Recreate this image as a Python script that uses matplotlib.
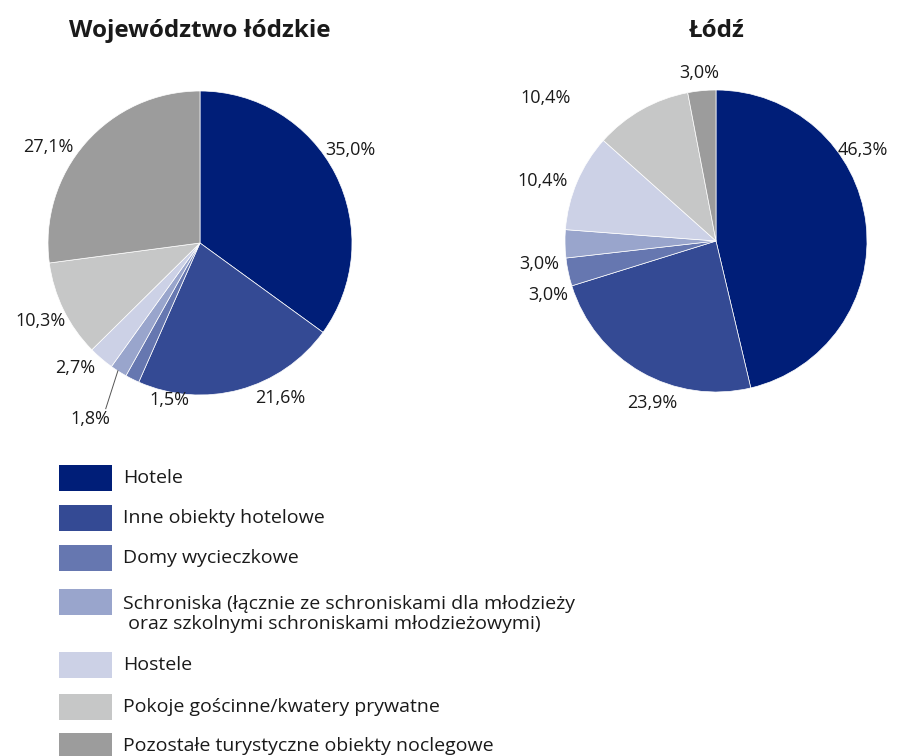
import matplotlib.pyplot as plt
from matplotlib.patches import Rectangle

plt.rcParams['font.family'] = ['Open Sans', 'DejaVu Sans']

# dane
categories = ['Hotele', 'Inne obiekty hotelowe', 'Domy wycieczkowe',
              'Schroniska (łącznie ze schroniskami dla młodzieży\n oraz szkolnymi schroniskami młodzieżowymi)',
              'Hostele', 'Pokoje gościnne/kwatery prywatne',
              'Pozostałe turystyczne obiekty noclegowe']
woj_values = [35.0, 21.6, 1.5, 1.8, 2.7, 10.3, 27.1]
lodz_values = [46.3, 23.9, 3.0, 3.0, 10.4, 10.4, 3.0]
colors = ['#001e78', '#344a94', '#6677b0', '#99a5cc', '#ccd1e6', '#c6c7c7', '#9c9c9c']

# rozmieszczenie etykiet (w jednostkach promienia)
woj_label_pos = [(0.99, 0.61), (0.53, -1.02), (-0.20, -1.03), (-0.72, -1.16),
                 (-0.82, -0.82), (-1.05, -0.51), (-1.0, 0.63)]
lodz_label_pos = [(0.97, 0.60), (-0.42, -1.07), (-1.11, -0.36), (-1.17, -0.15),
                  (-1.15, 0.40), (-1.13, 0.95), (-0.11, 1.11)]

W, H = 899, 756
fig = plt.figure(figsize=(W / 100, H / 100), dpi=100)
txt_color = '#1a1a1a'


def pct(v):
    return f'{v:.1f}%'.replace('.', ',')


def draw_pie(cx, cy, r, values, label_pos, title):
    ax = fig.add_axes([(cx - r) / W, (H - cy - r) / H, 2 * r / W, 2 * r / H])
    ax.pie(values, colors=colors, startangle=90, counterclock=False, radius=1,
           wedgeprops=dict(linewidth=0.5, edgecolor='white'))
    ax.set_xlim(-1, 1)
    ax.set_ylim(-1, 1)
    ax.set_aspect('equal')
    ax.axis('off')
    for v, (x, y) in zip(values, label_pos):
        ax.text(x, y, pct(v), ha='center', va='center', fontsize=13,
                color=txt_color, clip_on=False)
    fig.text(cx / W, 1 - 31 / H, title, ha='center', va='center',
             fontsize=17.5, fontweight='bold', color=txt_color)
    return ax


ax1 = draw_pie(200, 243, 152, woj_values, woj_label_pos, 'Województwo łódzkie')
draw_pie(716, 241, 151, lodz_values, lodz_label_pos, 'Łódź')

# linia odniesienia dla 1,8%
ax1.plot([-0.54, -0.62], [-0.84, -1.09], color='#555555', linewidth=0.7, clip_on=False)

# legenda
legend_y = [478, 518, 558, 602, 665, 707, 746]
for name, c, y in zip(categories, colors, legend_y):
    fig.patches.append(Rectangle((59 / W, 1 - (y + 13) / H), 53 / W, 26 / H,
                                 transform=fig.transFigure, facecolor=c,
                                 edgecolor='none'))
    if '\n' in name:
        fig.text(123 / W, 1 - (y + 12) / H, name, ha='left', va='center',
                 fontsize=14, color=txt_color, linespacing=1.15)
    else:
        fig.text(123 / W, 1 - y / H, name, ha='left', va='center',
                 fontsize=14, color=txt_color)

fig.savefig('out.png', dpi=100)
